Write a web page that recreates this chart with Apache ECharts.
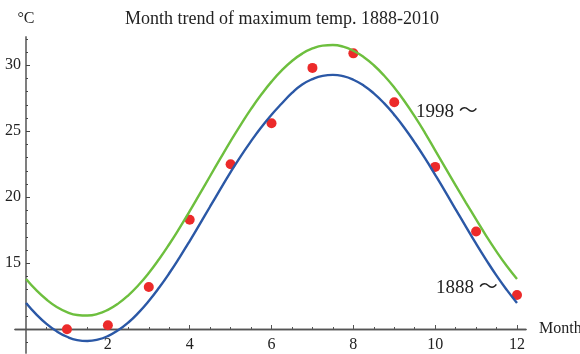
<!DOCTYPE html>
<html>
<head>
<meta charset="utf-8">
<script src="https://cdn.jsdelivr.net/npm/echarts@6/dist/echarts.min.js"></script>
<style>
  html, body { margin: 0; padding: 0; background: #fff; }
  #chart { width: 580px; height: 354px; }
</style>
</head>
<body>
<div id="chart"></div>
<script>
// monthly observations (red dots)
var months = [1, 2, 3, 4, 5, 6, 7, 8, 9, 10, 11, 12];
var maxTemp = [10.0, 10.3, 13.2, 18.3, 22.5, 25.6, 29.8, 30.9, 27.2, 22.3, 17.4, 12.6];

// fitted curves, every quarter month
var curveX = [0, 0.25, 0.5, 0.75, 1, 1.25, 1.5, 1.75, 2, 2.25, 2.5, 2.75, 3, 3.25, 3.5, 3.75,
    4, 4.25, 4.5, 4.75, 5, 5.25, 5.5, 5.75, 6, 6.25, 6.5, 6.75, 7, 7.25, 7.5, 7.75,
    8, 8.25, 8.5, 8.75, 9, 9.25, 9.5, 9.75, 10, 10.25, 10.5, 10.75, 11, 11.25, 11.5, 11.75, 12];
var fit1888 = [11.99, 11.13, 10.41, 9.84, 9.43, 9.18, 9.11, 9.21, 9.48, 9.92, 10.51, 11.26, 12.14, 13.14, 14.24, 15.43,
    16.68, 17.98, 19.30, 20.61, 21.90, 23.12, 24.25, 25.30, 26.25, 27.10, 27.90, 28.54, 28.95, 29.20, 29.27, 29.17,
    28.90, 28.47, 27.87, 27.13, 26.24, 25.25, 24.14, 22.96, 21.70, 20.41, 19.08, 17.78, 16.48, 15.24, 14.06, 12.98, 11.99];
var fit1998 = [13.81, 12.96, 12.25, 11.69, 11.30, 11.08, 11.04, 11.16, 11.47, 11.94, 12.57, 13.35, 14.26, 15.30, 16.44, 17.66,
    18.94, 20.27, 21.61, 22.94, 24.25, 25.50, 26.69, 27.78, 28.76, 29.61, 30.32, 30.88, 31.27, 31.49, 31.53, 31.41,
    31.10, 30.63, 30.00, 29.22, 28.31, 27.27, 26.12, 24.88, 23.55, 22.22, 20.90, 19.60, 18.33, 17.06, 15.88, 14.79, 13.81];

// axis ticks
var xLabelValues = [2, 4, 6, 8, 10, 12];
var xMinorTicks = [0.5, 1, 1.5, 2.5, 3, 3.5, 4.5, 5, 5.5, 6.5, 7, 7.5, 8.5, 9, 9.5, 10.5, 11, 11.5];
var yLabelValues = [15, 20, 25, 30];
var yMinorTicks = [9, 11, 12, 13, 14, 16, 17, 18, 19, 21, 22, 23, 24, 26, 27, 28, 29, 31, 32];

function pairs(xs, ys) {
    var out = [];
    for (var i = 0; i < xs.length; i++) out.push([xs[i], ys[i]]);
    return out;
}

var serif = "'Liberation Serif', 'DejaVu Serif', serif";

var chart = echarts.init(document.getElementById('chart'));

var xBase = {
    type: 'value',
    min: -0.27,
    max: 12.22,
    position: 'bottom',
    offset: -24,
    splitLine: { show: false },
    axisLine: { show: true, onZero: false, lineStyle: { color: '#555', width: 1.3 } }
};
var yBase = {
    type: 'value',
    min: 8.2,
    max: 32.14,
    position: 'left',
    offset: -11,
    splitLine: { show: false },
    axisLine: { show: true, onZero: false, lineStyle: { color: '#7a7a7a', width: 1.6 } }
};

var option = {
    animation: false,
    title: {
        text: 'Month trend of maximum temp. 1888-2010',
        left: 120,
        top: 5,
        textStyle: { fontFamily: serif, fontSize: 18, fontWeight: 'normal', color: '#222' }
    },
    grid: { left: 15, right: 54, top: 37, bottom: 1, containLabel: false, outerBoundsMode: 'none' },
    xAxis: [
        Object.assign({}, xBase, {
            name: 'Month',
            nameLocation: 'end',
            nameGap: 13,
            nameTextStyle: { fontFamily: serif, fontSize: 16, color: '#222' },
            axisTick: { show: true, inside: true, length: 4, customValues: xLabelValues, lineStyle: { color: '#555' } },
            axisLabel: { customValues: xLabelValues, margin: 8, fontFamily: serif, fontSize: 16, color: '#222' }
        }),
        Object.assign({}, xBase, {
            axisTick: { show: true, inside: true, length: 2, customValues: xMinorTicks, lineStyle: { color: '#555' } },
            axisLabel: { show: false }
        })
    ],
    yAxis: [
        Object.assign({}, yBase, {
            name: '°C',
            nameLocation: 'end',
            nameGap: 10,
            nameTextStyle: { fontFamily: serif, fontSize: 16, color: '#222' },
            axisTick: { show: true, inside: true, length: 4, customValues: yLabelValues, lineStyle: { color: '#444' } },
            axisLabel: { customValues: yLabelValues, margin: 5, fontFamily: serif, fontSize: 16, color: '#222' }
        }),
        Object.assign({}, yBase, {
            axisTick: { show: true, inside: true, length: 2, customValues: yMinorTicks, lineStyle: { color: '#444' } },
            axisLabel: { show: false }
        })
    ],
    graphic: [
        {
            type: 'text', left: 416, top: 103,
            style: { text: '1998 ～', font: "19px 'Liberation Serif', 'Noto Sans CJK JP'", fill: '#222' }
        },
        {
            type: 'text', left: 436, top: 279,
            style: { text: '1888 ～', font: "19px 'Liberation Serif', 'Noto Sans CJK JP'", fill: '#222' }
        }
    ],
    series: [
        {
            name: '1998',
            type: 'line',
            smooth: true,
            symbol: 'none',
            lineStyle: { color: '#6dbf3e', width: 2.4 },
            data: pairs(curveX, fit1998)
        },
        {
            name: '1888',
            type: 'line',
            smooth: true,
            symbol: 'none',
            lineStyle: { color: '#2b58a6', width: 2.4 },
            data: pairs(curveX, fit1888)
        },
        {
            name: 'observed',
            type: 'scatter',
            symbolSize: 10,
            itemStyle: { color: '#ec2a2a', opacity: 1 },
            data: pairs(months, maxTemp)
        }
    ]
};
chart.setOption(option);
</script>
</body>
</html>
